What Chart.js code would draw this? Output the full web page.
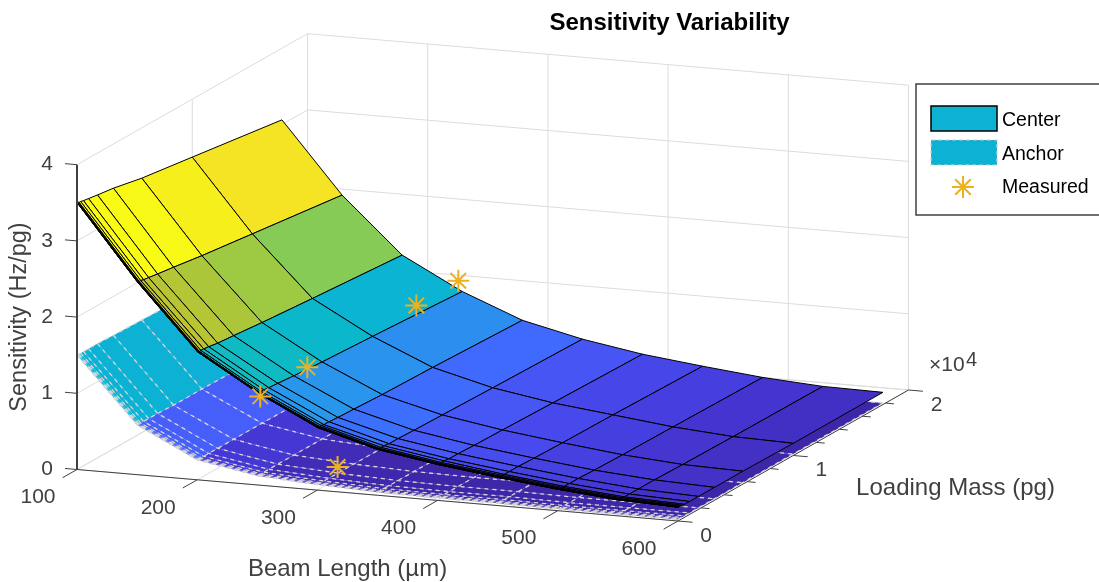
<!DOCTYPE html>
<html>
<head>
<meta charset="utf-8">
<title>Sensitivity Variability</title>
<script src="https://cdn.jsdelivr.net/npm/chart.js@4"></script>
<style>
  html, body { margin: 0; padding: 0; background: #fff; }
  canvas { display: block; }
</style>
</head>
<body>
<canvas id="myChart" width="1099" height="582"></canvas>
<script>
const beamLengths = [100, 150, 200, 250, 300, 350, 400, 450, 500, 550, 600];
const loadingMasses = [10, 18, 32, 56, 100, 178, 316, 562, 1000, 1778, 3162, 5623, 10000, 17783];

// one row per beam length, one column per loading mass
const centerValues = [
  [3.5, 3.5, 3.5, 3.5, 3.5, 3.49, 3.49, 3.48, 3.47, 3.45, 3.42, 3.34, 3.24, 3.06],
  [2.53, 2.53, 2.53, 2.53, 2.53, 2.52, 2.52, 2.51, 2.5, 2.48, 2.45, 2.39, 2.3, 2.14],
  [1.68, 1.68, 1.68, 1.68, 1.68, 1.67, 1.67, 1.67, 1.66, 1.64, 1.62, 1.58, 1.52, 1.42],
  [1.21, 1.21, 1.21, 1.21, 1.21, 1.2, 1.2, 1.2, 1.19, 1.18, 1.16, 1.13, 1.09, 1.01],
  [0.82, 0.82, 0.82, 0.82, 0.82, 0.82, 0.82, 0.81, 0.81, 0.8, 0.79, 0.77, 0.75, 0.7],
  [0.6, 0.6, 0.6, 0.6, 0.6, 0.6, 0.6, 0.6, 0.59, 0.59, 0.58, 0.57, 0.55, 0.52],
  [0.47, 0.47, 0.47, 0.47, 0.47, 0.47, 0.47, 0.47, 0.46, 0.46, 0.45, 0.44, 0.42, 0.39],
  [0.37, 0.37, 0.37, 0.37, 0.37, 0.37, 0.37, 0.36, 0.36, 0.36, 0.35, 0.34, 0.33, 0.3],
  [0.28, 0.28, 0.28, 0.28, 0.28, 0.28, 0.28, 0.27, 0.27, 0.27, 0.26, 0.25, 0.24, 0.22],
  [0.21, 0.21, 0.21, 0.21, 0.21, 0.21, 0.21, 0.2, 0.2, 0.2, 0.2, 0.19, 0.18, 0.17],
  [0.18, 0.18, 0.18, 0.18, 0.18, 0.18, 0.18, 0.17, 0.17, 0.17, 0.17, 0.17, 0.16, 0.16],
];

const anchorValues = [
  [1.5, 1.5, 1.5, 1.5, 1.5, 1.5, 1.5, 1.5, 1.5, 1.5, 1.49, 1.48, 1.46, 1.44],
  [0.65, 0.65, 0.65, 0.65, 0.65, 0.65, 0.65, 0.65, 0.65, 0.65, 0.64, 0.64, 0.63, 0.62],
  [0.26, 0.26, 0.26, 0.26, 0.26, 0.26, 0.26, 0.26, 0.26, 0.26, 0.26, 0.26, 0.25, 0.25],
  [0.12, 0.12, 0.12, 0.12, 0.12, 0.12, 0.12, 0.12, 0.12, 0.12, 0.12, 0.12, 0.12, 0.11],
  [0.07, 0.07, 0.07, 0.07, 0.07, 0.07, 0.07, 0.07, 0.07, 0.07, 0.07, 0.07, 0.07, 0.06],
  [0.04, 0.04, 0.04, 0.04, 0.04, 0.04, 0.04, 0.04, 0.04, 0.04, 0.04, 0.04, 0.04, 0.04],
  [0.03, 0.03, 0.03, 0.03, 0.03, 0.03, 0.03, 0.03, 0.03, 0.03, 0.03, 0.03, 0.03, 0.03],
  [0.03, 0.03, 0.03, 0.03, 0.03, 0.03, 0.03, 0.03, 0.03, 0.03, 0.03, 0.03, 0.03, 0.03],
  [0.02, 0.02, 0.02, 0.02, 0.02, 0.02, 0.02, 0.02, 0.02, 0.02, 0.02, 0.02, 0.02, 0.02],
  [0.02, 0.02, 0.02, 0.02, 0.02, 0.02, 0.02, 0.02, 0.02, 0.02, 0.02, 0.02, 0.02, 0.02],
  [0.02, 0.02, 0.02, 0.02, 0.02, 0.02, 0.02, 0.02, 0.02, 0.02, 0.02, 0.02, 0.02, 0.02],
];

const measuredLengths = [250, 250, 250, 250, 291];
const measuredMasses = [17440, 13800, 4340, 260, 2690];
const measuredValues = [1.18, 1.17, 1.17, 1.14, 0.06];

const lengthTicks = [100, 200, 300, 400, 500, 600];
const massTicks = [0, 2000, 4000, 6000, 8000, 10000, 12000, 14000, 16000, 18000, 20000];
const massTickLabels = { 0: "0", 10000: "1", 20000: "2" };
const sensitivityTicks = [0, 1, 2, 3, 4];

const parula = ["#3e26a8", "#4537d5", "#484df0", "#4563fd", "#327bfc", "#2b91ef", "#20a5e3", "#08b5d0",
  "#18bfb6", "#37c897", "#63cd6f", "#9dc942", "#d1bf27", "#f8ba3d", "#f5cb2e", "#f5e423", "#f9fb15"];
const colorMin = 0.05;
const colorMax = 3.45;
const measuredColor = "#edb120";
const inkColor = "#404040";
const gridColor = "#dcdcdc";

// The view looks roughly orthographic, so the 3D axes turn into straight offsets on the page
function project(length, mass, value) {
  return {
    x: 77 + (length - 100) * 1.202 + mass * 0.011525,
    y: 469.5 + (length - 100) * 0.103 - mass * 0.00655 - value * 76.2,
  };
}

function hexToRgb(hex) {
  return [1, 3, 5].map((i) => parseInt(hex.slice(i, i + 2), 16));
}

function valueToColor(value) {
  let t = Math.min(1, Math.max(0, (value - colorMin) / (colorMax - colorMin)));
  let pos = t * (parula.length - 1);
  let i = Math.min(parula.length - 2, Math.floor(pos));
  let a = hexToRgb(parula[i]);
  let b = hexToRgb(parula[i + 1]);
  let f = pos - i;
  return `rgb(${a.map((c, k) => Math.round(c + (b[k] - c) * f)).join(",")})`;
}

function lineDataset(points, color, width) {
  return {
    data: points,
    showLine: true,
    fill: false,
    tension: 0,
    pointRadius: 0,
    borderColor: color,
    borderWidth: width,
  };
}

// Back to front: far beam end first, heavy mass first, so nearer cells cover farther ones
function surfaceCells(values, edgeColor, edgeWidth) {
  let cells = [];
  for (let i = 0; i < beamLengths.length - 1; i++) {
    for (let j = loadingMasses.length - 2; j >= 0; j--) {
      let cell = lineDataset([
        project(beamLengths[i], loadingMasses[j], values[i][j]),
        project(beamLengths[i + 1], loadingMasses[j], values[i + 1][j]),
        project(beamLengths[i + 1], loadingMasses[j + 1], values[i + 1][j + 1]),
        project(beamLengths[i], loadingMasses[j + 1], values[i][j + 1]),
        project(beamLengths[i], loadingMasses[j], values[i][j]),
      ], edgeColor, edgeWidth);
      cell.fill = "shape";
      cell.backgroundColor = valueToColor(values[i][j]);
      cells.push(cell);
    }
  }
  return cells;
}

// Whole mesh lines instead of cell outlines, so one dash pattern runs along each line
function dashedMesh(values, color, width, dash) {
  let lines = [];
  for (let j = 0; j < loadingMasses.length; j++) {
    let points = beamLengths.map((length, i) => project(length, loadingMasses[j], values[i][j]));
    lines.push(lineDataset(points, color, width));
  }
  for (let i = 0; i < beamLengths.length; i++) {
    let points = loadingMasses.map((mass, j) => project(beamLengths[i], mass, values[i][j]));
    lines.push(lineDataset(points, color, width));
  }
  for (let line of lines) {
    line.borderDash = dash;
  }
  return lines;
}

function gridDatasets() {
  let lines = [];
  let lastLength = lengthTicks[lengthTicks.length - 1];
  let firstLength = lengthTicks[0];
  let lastMass = massTicks[massTicks.length - 1];
  let topValue = sensitivityTicks[sensitivityTicks.length - 1];
  for (let length of lengthTicks) {
    lines.push(lineDataset([project(length, 0, 0), project(length, lastMass, 0), project(length, lastMass, topValue)], gridColor, 1));
  }
  for (let mass of [0, 10000, 20000]) {
    lines.push(lineDataset([project(lastLength, mass, 0), project(firstLength, mass, 0), project(firstLength, mass, topValue)], gridColor, 1));
  }
  for (let value of sensitivityTicks) {
    lines.push(lineDataset([project(firstLength, 0, value), project(firstLength, lastMass, value), project(lastLength, lastMass, value)], gridColor, 1));
  }
  return lines;
}

function axisDatasets() {
  let lines = [];
  let lastLength = lengthTicks[lengthTicks.length - 1];
  let firstLength = lengthTicks[0];
  let lastMass = massTicks[massTicks.length - 1];
  // floor edges and their ticks
  lines.push(lineDataset([project(firstLength, 0, 0), project(lastLength, 0, 0), project(lastLength, lastMass, 0)], inkColor, 1));
  for (let length of lengthTicks) {
    lines.push(lineDataset([project(length, 0, 0), project(length, -1250, 0)], inkColor, 1));
  }
  for (let mass of massTicks) {
    let reach = mass % 10000 === 0 ? 612 : 607;
    lines.push(lineDataset([project(lastLength, mass, 0), project(reach, mass, 0)], inkColor, 1));
  }
  return lines;
}

function frontAxisDatasets() {
  let firstLength = lengthTicks[0];
  let topValue = sensitivityTicks[sensitivityTicks.length - 1];
  let lines = [lineDataset([project(firstLength, 0, 0), project(firstLength, 0, topValue)], inkColor, 2)];
  for (let value of sensitivityTicks) {
    lines.push(lineDataset([project(firstLength, 0, value), project(90, 0, value)], inkColor, 1));
  }
  return lines;
}

function measuredDataset() {
  let points = [];
  for (let i = 0; i < measuredValues.length; i++) {
    points.push(project(measuredLengths[i], measuredMasses[i], measuredValues[i]));
  }
  return {
    data: points,
    showLine: false,
    pointStyle: "star",
    pointRadius: 11,
    pointBorderColor: measuredColor,
    pointBackgroundColor: measuredColor,
    pointBorderWidth: 2,
  };
}

function drawText(ctx, text, x, y, font, color, align) {
  ctx.font = font;
  ctx.fillStyle = color;
  ctx.textAlign = align || "center";
  ctx.textBaseline = "middle";
  ctx.fillText(text, x, y);
}

const labelsPlugin = {
  id: "labels",
  afterDraw(chart) {
    let ctx = chart.ctx;
    let sx = chart.scales.x;
    let sy = chart.scales.y;
    let tickFont = "21px 'Liberation Sans'";
    let titleFont = "24px 'Liberation Sans'";
    let legendFont = "19.5px 'Liberation Sans'";

    ctx.save();
    drawText(ctx, "Sensitivity Variability", sx.getPixelForValue(669.5), sy.getPixelForValue(23), "bold 24px 'Liberation Sans'", "#000");

    for (let value of sensitivityTicks) {
      let p = project(100, 0, value);
      drawText(ctx, String(value), sx.getPixelForValue(p.x - 30), sy.getPixelForValue(p.y), tickFont, inkColor);
    }
    for (let length of lengthTicks) {
      let p = project(length, 0, 0);
      drawText(ctx, String(length), sx.getPixelForValue(p.x - 39), sy.getPixelForValue(p.y + 28), tickFont, inkColor);
    }
    for (let mass of massTicks) {
      if (massTickLabels[mass] === undefined) continue;
      let p = project(600, mass, 0);
      drawText(ctx, massTickLabels[mass], sx.getPixelForValue(p.x + 28), sy.getPixelForValue(p.y + 15), tickFont, inkColor);
    }
    drawText(ctx, "×10", 929, 365, tickFont, inkColor, "left");
    drawText(ctx, "4", 966, 360, "20px 'Liberation Sans'", inkColor, "left");

    drawText(ctx, "Beam Length (µm)", 347.5, 569, titleFont, inkColor);
    drawText(ctx, "Loading Mass (pg)", 955.5, 488, titleFont, inkColor);
    ctx.save();
    ctx.translate(20, 317);
    ctx.rotate(-Math.PI / 2);
    drawText(ctx, "Sensitivity (Hz/pg)", 0, 0, "23.5px 'Liberation Sans'", inkColor);
    ctx.restore();

    // legend box
    ctx.fillStyle = "#fff";
    ctx.fillRect(916, 84, 190, 131);
    ctx.strokeStyle = inkColor;
    ctx.lineWidth = 1.5;
    ctx.strokeRect(916, 84, 190, 131);

    let swatch = valueToColor(anchorValues[0][0]);
    ctx.fillStyle = swatch;
    ctx.fillRect(931, 106, 66, 25);
    ctx.strokeStyle = "#000";
    ctx.lineWidth = 1.5;
    ctx.strokeRect(931, 106, 66, 25);
    drawText(ctx, "Center", 1002, 121, legendFont, "#000", "left");

    ctx.fillStyle = swatch;
    ctx.fillRect(931, 140, 66, 25);
    ctx.strokeStyle = "#cfcfcf";
    ctx.lineWidth = 1.2;
    ctx.setLineDash([4, 3]);
    ctx.strokeRect(931, 140, 66, 25);
    ctx.setLineDash([]);
    drawText(ctx, "Anchor", 1002, 155, legendFont, "#000", "left");

    ctx.strokeStyle = measuredColor;
    ctx.lineWidth = 2;
    ctx.beginPath();
    for (let k = 0; k < 4; k++) {
      let a = (k * Math.PI) / 4;
      ctx.moveTo(963 - 11 * Math.cos(a), 187 - 11 * Math.sin(a));
      ctx.lineTo(963 + 11 * Math.cos(a), 187 + 11 * Math.sin(a));
    }
    ctx.stroke();
    drawText(ctx, "Measured", 1002, 188, legendFont, "#000", "left");
    ctx.restore();
  },
};

// Chart.js paints the first dataset on top, so the back-to-front list gets reversed
let layers = [];
layers = layers.concat(gridDatasets());
layers = layers.concat(axisDatasets());
layers = layers.concat(surfaceCells(anchorValues, "rgba(0,0,0,0)", 0));
layers = layers.concat(dashedMesh(anchorValues, "#d6d6d6", 1.3, [4, 4]));
layers = layers.concat(surfaceCells(centerValues, "#000000", 1));
layers = layers.concat(frontAxisDatasets());
layers.push(measuredDataset());

new Chart(document.getElementById("myChart").getContext("2d"), {
  type: "scatter",
  data: { datasets: layers.reverse() },
  options: {
    responsive: false,
    animation: false,
    layout: { padding: 0, autoPadding: false },
    plugins: {
      legend: { display: false },
      title: { display: false },
      tooltip: { enabled: false },
    },
    scales: {
      x: { type: "linear", min: 0, max: 1099, display: false },
      y: { type: "linear", min: 0, max: 582, reverse: true, display: false },
    },
  },
  plugins: [labelsPlugin],
});
</script>
</body>
</html>
